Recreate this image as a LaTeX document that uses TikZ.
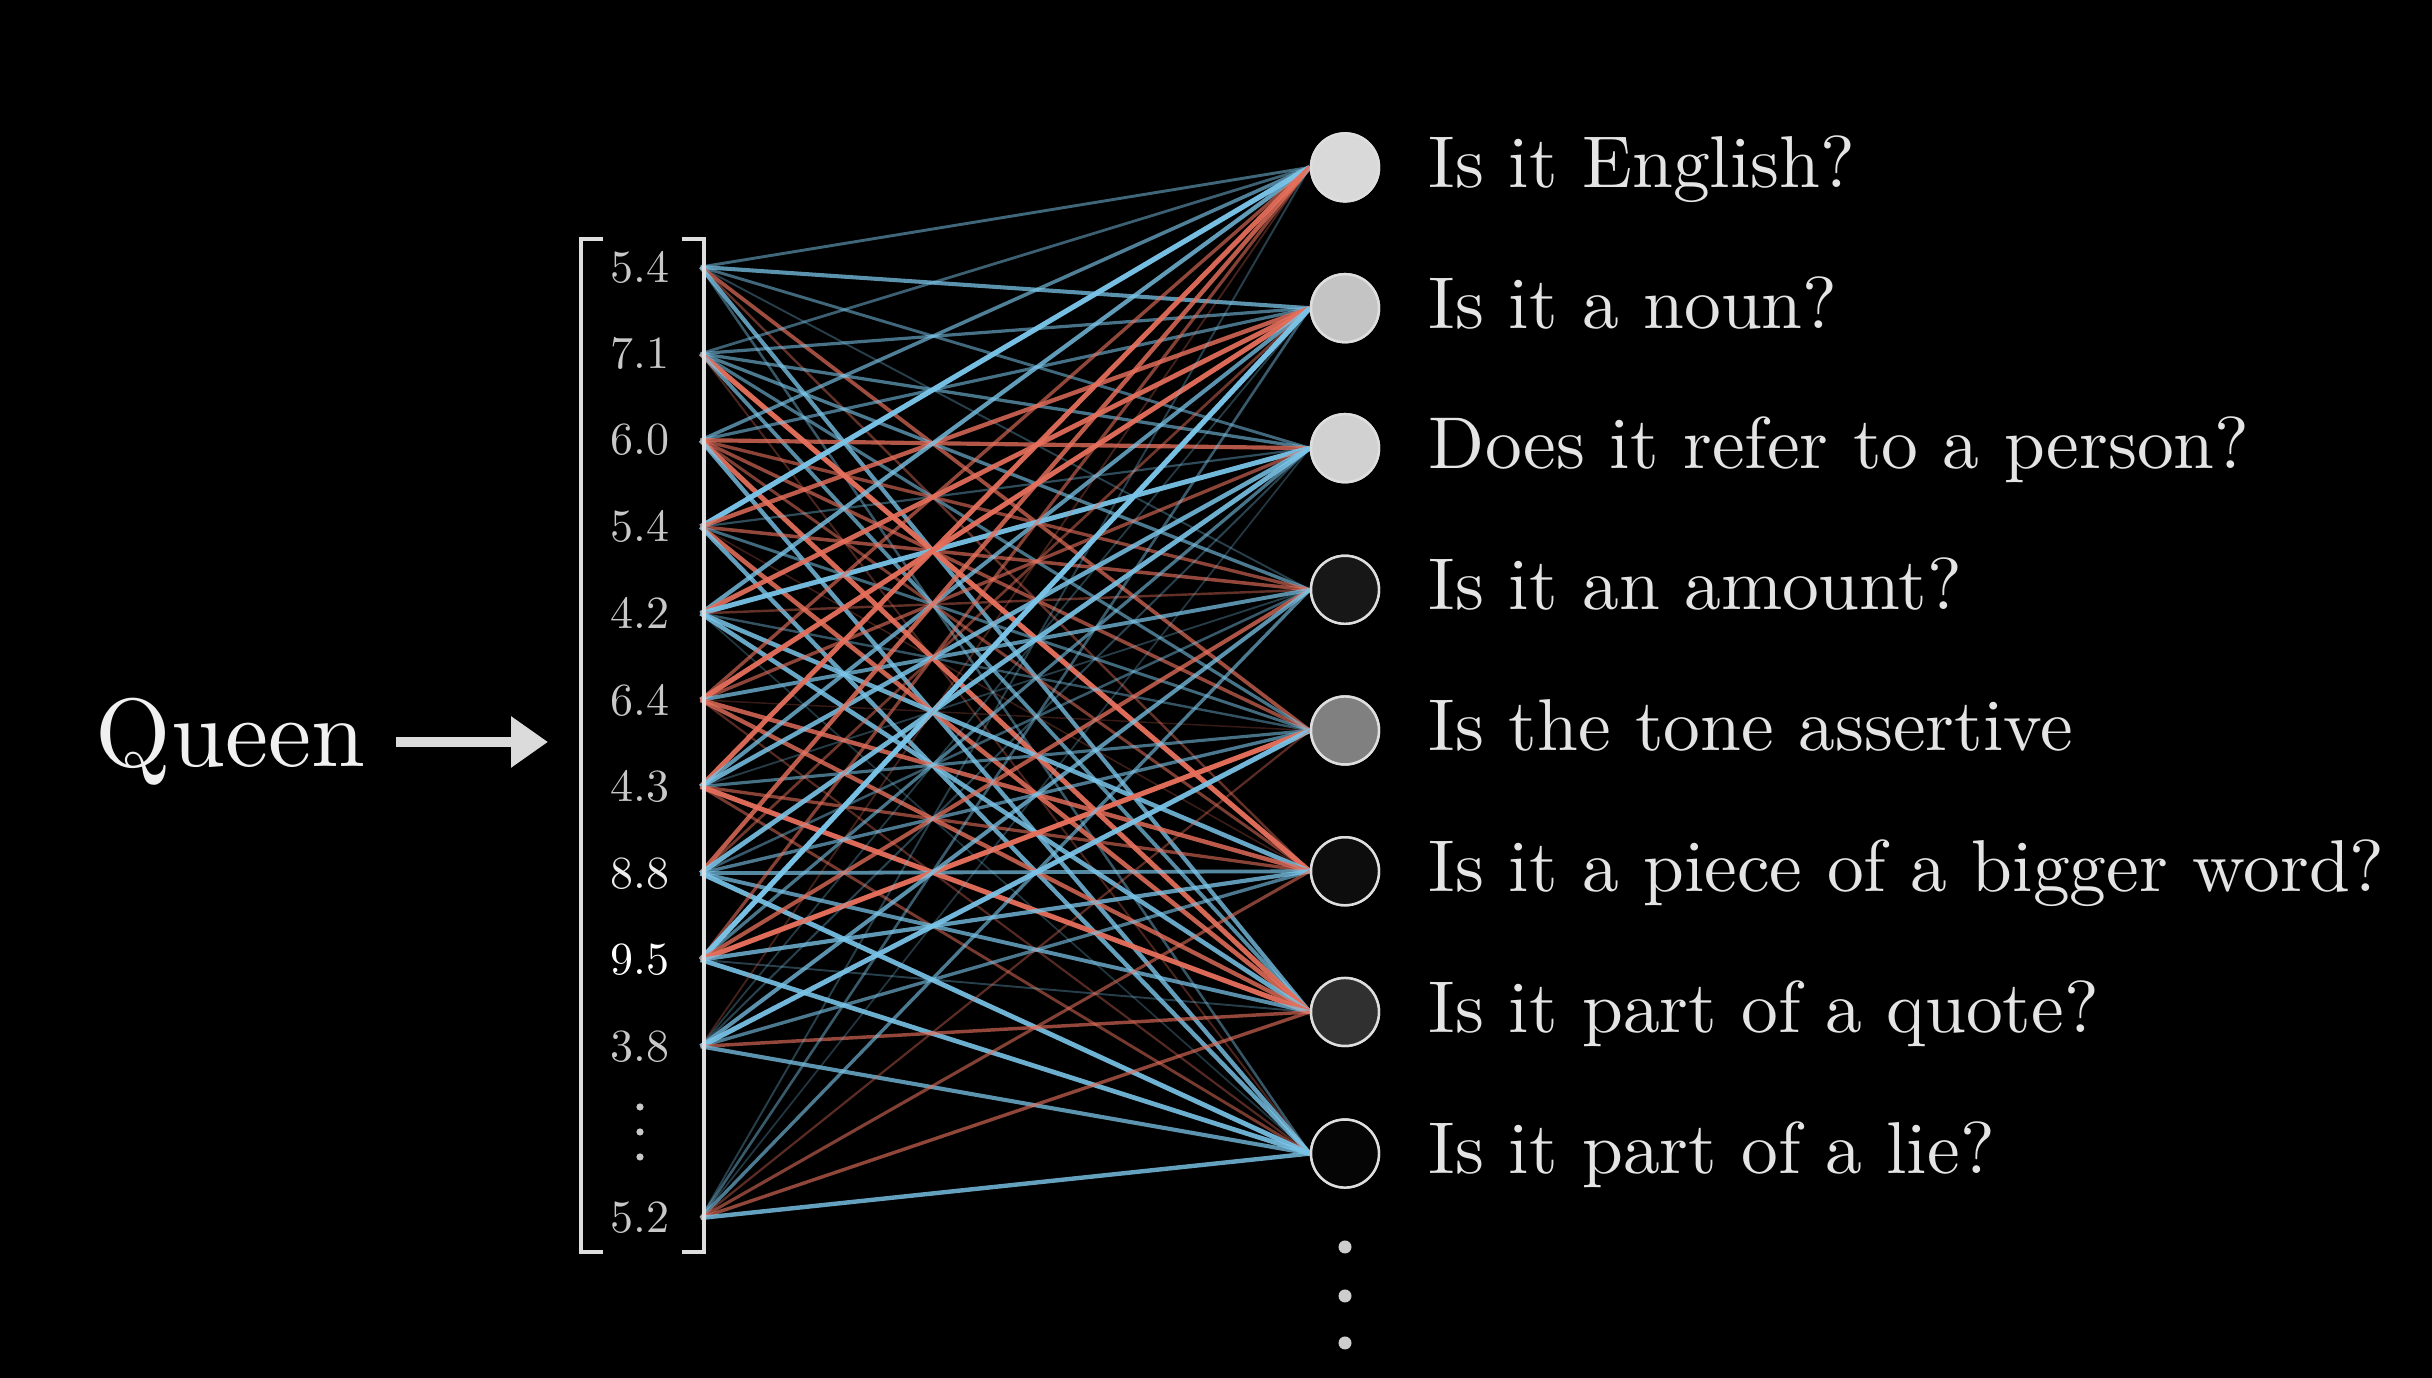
\documentclass[tikz,border=0pt]{standalone}
\usepackage{graphicx}
\usetikzlibrary{arrows.meta,positioning}
\definecolor{wblue}{RGB}{122,196,232}
\definecolor{wred}{RGB}{230,112,92}
\definecolor{inktext}{RGB}{228,228,228}
\definecolor{numgray}{RGB}{200,200,200}
\definecolor{rimgray}{RGB}{222,222,222}
\definecolor{dotgray}{RGB}{205,205,205}
% text set at the 10pt design size, then enlarged
\newcommand{\bigcm}[2]{\scalebox{#1}{#2}}

\begin{document}
\begin{tikzpicture}[
  entry/.style={
    text=numgray,
    minimum width=1.2cm,
    inner sep=0pt
  },
  neuron/.style={
    circle,
    draw=rimgray,
    line width=0.7pt,
    minimum size=0.68cm,
    inner sep=0pt
  },
  question/.style={
    text=inktext,
    text height=17pt,
    text depth=5.6pt,
    inner sep=0pt
  },
  bracket/.style={
    draw=rimgray,
    line width=1.1pt,
    line join=miter
  }
]

  % Canvas
  \fill[black] (0,0) rectangle (24.32,13.78);
  \useasboundingbox (0,0) rectangle (24.32,13.78);

  % Embedding vector entries
  \node[entry] (e1) at (6.40,11.11) {\bigcm{1.31}{5.4}};
  \node[entry] (e2) at (6.40,10.244) {\bigcm{1.31}{7.1}};
  \node[entry] (e3) at (6.40,9.378) {\bigcm{1.31}{6.0}};
  \node[entry] (e4) at (6.40,8.512) {\bigcm{1.31}{5.4}};
  \node[entry] (e5) at (6.40,7.646) {\bigcm{1.31}{4.2}};
  \node[entry] (e6) at (6.40,6.78) {\bigcm{1.31}{6.4}};
  \node[entry] (e7) at (6.40,5.914) {\bigcm{1.31}{4.3}};
  \node[entry, text=white!92!black] (e8) at (6.40,5.048) {\bigcm{1.31}{8.8}};
  \node[entry, text=white] (e9) at (6.40,4.182) {\bigcm{1.31}{9.5}};
  \node[entry] (e10) at (6.40,3.316) {\bigcm{1.31}{3.8}};
  \node[entry] (e11) at (6.40,1.60) {\bigcm{1.31}{5.2}};
  \foreach \y in {2.71,2.46,2.21}
    \fill[numgray] (6.40,\y) circle (0.036);

  % Feature neurons
  \node[neuron, fill=white!85!black] (n1) at (13.45,12.106) {};
  \node[neuron, fill=white!77!black] (n2) at (13.45,10.698) {};
  \node[neuron, fill=white!82!black] (n3) at (13.45,9.298) {};
  \node[neuron, fill=white!9!black] (n4) at (13.45,7.882) {};
  \node[neuron, fill=white!50!black] (n5) at (13.45,6.475) {};
  \node[neuron, fill=white!5!black] (n6) at (13.45,5.067) {};
  \node[neuron, fill=white!19!black] (n7) at (13.45,3.66) {};
  \node[neuron, fill=white!2!black] (n8) at (13.45,2.244) {};

  % Weights
  \pgfmathsetseed{4242}
  \foreach \i in {1,...,11}{
    \foreach \j in {1,...,8}{
      \pgfmathsetmacro\w{rand}
      \pgfmathsetmacro\a{abs(\w)^0.8}
      \pgfmathsetmacro\lw{0.4+1.1*\a}
      \pgfmathsetmacro\op{0.22+0.78*\a}
      \ifdim\w pt>0pt \def\wc{wblue}\else\def\wc{wred}\fi
      \draw[\wc, line width=\lw pt, opacity=\op] (e\i.east) -- (n\j.west);
    }
  }

  % Neurons again on top of the weights
  \foreach \j/\f in {1/85,2/77,3/82,4/9,5/50,6/5,7/19,8/2}
    \node[neuron, fill=white!\f!black] at (n\j) {};

  \foreach \y in {1.31,0.82,0.35}
    \fill[dotgray] (13.45,\y) circle (0.065);

  % Questions
  \node[question, right=0.48cm of n1] (q1) {\bigcm{2.09}{Is it English?}};
  \node[question, right=0.48cm of n2] (q2) {\bigcm{2.09}{Is it a noun?}};
  \node[question, right=0.48cm of n3] (q3) {\bigcm{2.09}{Does it refer to a person?}};
  \node[question, right=0.48cm of n4] (q4) {\bigcm{2.09}{Is it an amount?}};
  \node[question, right=0.48cm of n5] (q5) {\bigcm{2.09}{Is the tone assertive}};
  \node[question, right=0.48cm of n6] (q6) {\bigcm{2.09}{Is it a piece of a bigger word?}};
  \node[question, right=0.48cm of n7] (q7) {\bigcm{2.09}{Is it part of a quote?}};
  \node[question, right=0.48cm of n8] (q8) {\bigcm{2.09}{Is it part of a lie?}};

  % Vector brackets
  \node[minimum width=1.21cm, minimum height=10.11cm, inner sep=0pt] (vec) at (6.425,6.325) {};
  \draw[bracket] ([xshift=2.2mm]vec.north west) -- (vec.north west) -- (vec.south west) -- ([xshift=2.2mm]vec.south west);
  \draw[bracket] ([xshift=-2.2mm]vec.north east) -- (vec.north east) -- (vec.south east) -- ([xshift=-2.2mm]vec.south east);

  % Token
  \node[text=white!94!black, anchor=base west, inner sep=0pt] (queen) at (0.95,6.11) {\bigcm{2.76}{Queen}};
  \coordinate (tip) at (5.48,6.36);
  \draw[-{Triangle[length=3.7mm,width=4.9mm]}, line width=3pt, draw=white!86!black, shorten <=3mm] (queen.east |- tip) -- (tip);

\end{tikzpicture}
\end{document}
